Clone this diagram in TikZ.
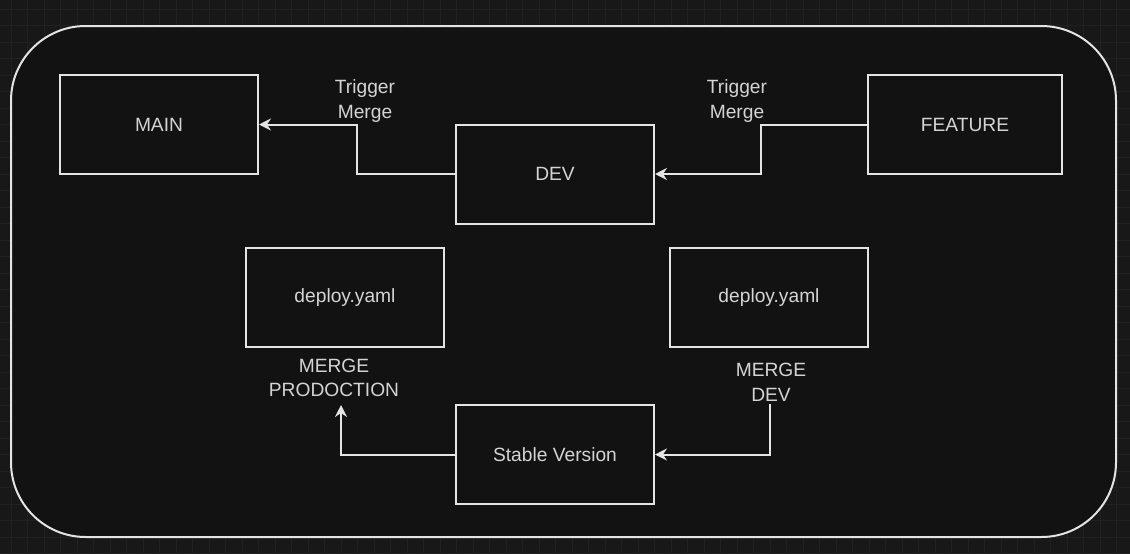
\documentclass[tikz,border=0pt]{standalone}
\usepackage{fontspec}
\setmainfont{Liberation Sans}
\usetikzlibrary{arrows.meta}

\definecolor{canvas}{HTML}{181818}
\definecolor{gridline}{HTML}{212121}
\definecolor{panel}{HTML}{121212}
\definecolor{stroke}{HTML}{E4E4E4}
\definecolor{ink}{HTML}{D4D4D4}

\begin{document}
\begin{tikzpicture}[x=0.75pt, y=-0.75pt, % one unit is one pixel of the sketch
    box/.style={draw=stroke, line width=1.5pt, fill=panel, minimum width=148.5pt,
      minimum height=74.25pt, text=ink, font=\fontsize{14.4}{17}\selectfont},
    lbl/.style={text=ink, align=center, inner sep=0pt,
      font=\fontsize{14.4}{18.5}\selectfont},
    link/.style={draw=stroke, line width=1.5pt,
      -{Stealth[length=9pt, width=9pt, inset=3pt]}}]

    % Define parameters
    \def\gstep{16.5}  % grid spacing of the canvas

    % Canvas and grid
    \useasboundingbox (0,0) rectangle (1130,553);
    \fill[canvas] (0,0) rectangle (1130,553);
    \foreach \i in {0,...,68} {
        \draw[gridline, line width=0.6pt] (11+\i*\gstep-\gstep, 0) -- (11+\i*\gstep-\gstep, 553);
    }
    \foreach \j in {0,...,34} {
        \draw[gridline, line width=0.6pt] (0, 9+\j*\gstep-\gstep) -- (1130, 9+\j*\gstep-\gstep);
    }

    % Outer frame
    \draw[draw=stroke, fill=panel, line width=1.5pt, rounded corners=56pt] (11,26) rectangle (1116,537);

    % Branches
    \node[box] (main) at (159,124.5) {MAIN};
    \node[box] (dev) at (555,174) {DEV};
    \node[box, minimum width=145.5pt] (feature) at (965,124.5) {FEATURE};

    % deploy files
    \node[box] (deployprod) at (345,297.5) {deploy.yaml};
    \node[box] (deploydev) at (769,297.5) {deploy.yaml};
    \node[box] (stable) at (555,454.5) {Stable Version};

    % labels
    \node[lbl] (trigmain) at (365,101) {Trigger\\Merge};
    \node[lbl] (trigdev) at (737,101) {Trigger\\Merge};
    \node[lbl] (mergeprod) at (334,378) {MERGE\\PRODOCTION};
    \node[lbl] (mergedev) at (771,382) {MERGE\\DEV};
    \coordinate (prodend) at (341,405);
    \coordinate (devstart) at (770,404);

    % Merges
    \draw[link] (dev.west) -- ++(-98,0) |- (main.east);
    \draw[link] (feature.west) -- ++(-106,0) |- (dev.east);
    \draw[link] (stable.west) -| (prodend);
    \draw[link] (devstart) |- (stable.east);

\end{tikzpicture}
\end{document}
